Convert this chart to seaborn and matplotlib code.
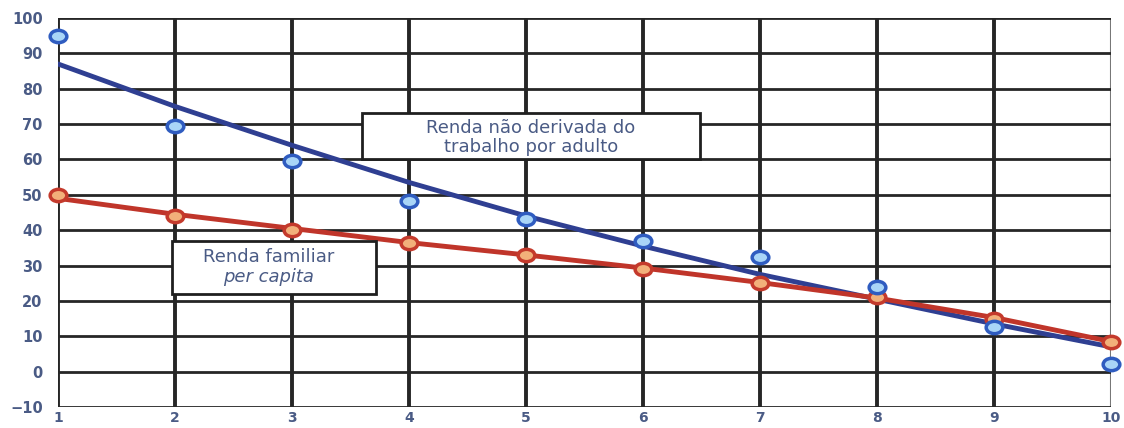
import matplotlib.pyplot as plt
import seaborn as sns
import pandas as pd
from matplotlib.path import Path
from matplotlib.transforms import Affine2D

# data
decis = [1, 2, 3, 4, 5, 6, 7, 8, 9, 10]
renda_nao_trab = [95, 69.5, 59.5, 48.3, 43.3, 37, 32.5, 23.8, 12.7, 2.3]
renda_familiar = [50, 44, 40, 36.5, 33, 29, 25, 21, 15, 8.5]
tend_nao_trab = [87, 75, 64, 53.5, 44, 35.5, 27.5, 20.5, 13.5, 7]
tend_familiar = [49, 44.5, 40.5, 36.5, 33, 29.3, 25.2, 20.8, 15.3, 8.5]
yticks = [-10, 0, 10, 20, 30, 40, 50, 60, 70, 80, 90, 100]

df = pd.DataFrame({"decil": decis, "nao_trab": renda_nao_trab, "familiar": renda_familiar,
                   "t_nao_trab": tend_nao_trab, "t_familiar": tend_familiar})

sns.set_style("white")
fig = plt.figure(figsize=(11.24, 4.28), dpi=100)
ax = fig.add_axes([0.0516, 0.049, 0.937, 0.909])

lab_col = "#4a5b85"
grid_col = "#262626"

ax.set_xlim(1, 10)
ax.set_ylim(-10, 100)
ax.set_xticks(decis)
ax.set_yticks(yticks)
for x in decis[:-1]:
    ax.axvline(x, color=grid_col, lw=2.8, zorder=1)
ax.axvline(10, color="#777777", lw=1.5, zorder=1)
for y in yticks:
    ax.axhline(y, color=grid_col, lw=2.0, zorder=1)
for s in ax.spines.values():
    s.set_visible(False)
ax.tick_params(axis="both", length=5, width=2, color=grid_col, labelcolor=lab_col, labelsize=10.5, pad=6)
ax.tick_params(axis="x", length=0, pad=3, labelsize=10)
for t in ax.get_xticklabels() + ax.get_yticklabels():
    t.set_fontweight("bold")

# trend lines
sns.lineplot(data=df, x="decil", y="t_nao_trab", color="#2f3f92", lw=3.5, ax=ax, zorder=3)
sns.lineplot(data=df, x="decil", y="t_familiar", color="#c0352a", lw=3.5, ax=ax, zorder=3)

# elliptical markers
ellipse = Path.unit_circle().transformed(Affine2D().scale(1.35, 1.0))
ax.plot(df["decil"], df["familiar"], ls="none", marker=ellipse, ms=12, mfc="#f2b07a",
        mec="#c43a2c", mew=2.5, zorder=4, clip_on=False)
ax.plot(df["decil"], df["nao_trab"], ls="none", marker=ellipse, ms=12, mfc="#a9d5f7",
        mec="#2f5cc0", mew=2.5, zorder=4, clip_on=False)

ax.set_xlabel("")
ax.set_ylabel("")

ax.add_patch(plt.Rectangle((3.6, 60.2), 2.89, 13, fc="white", ec="#1f1f1f", lw=2, zorder=5))
ax.text(5.04, 68.9, "Renda não derivada do", ha="center", va="center", fontsize=13,
        color=lab_col, zorder=6)
ax.text(5.04, 63.6, "trabalho por adulto", ha="center", va="center", fontsize=13,
        color=lab_col, zorder=6)
ax.add_patch(plt.Rectangle((1.97, 22), 1.75, 15, fc="white", ec="#1f1f1f", lw=2, zorder=5))
ax.text(2.8, 32.5, "Renda familiar", ha="center", va="center", fontsize=13, color=lab_col, zorder=6)
ax.text(2.8, 26.8, "per capita", ha="center", va="center", fontsize=13, color=lab_col,
        style="italic", zorder=6)

fig.savefig("out.png", dpi=100)
